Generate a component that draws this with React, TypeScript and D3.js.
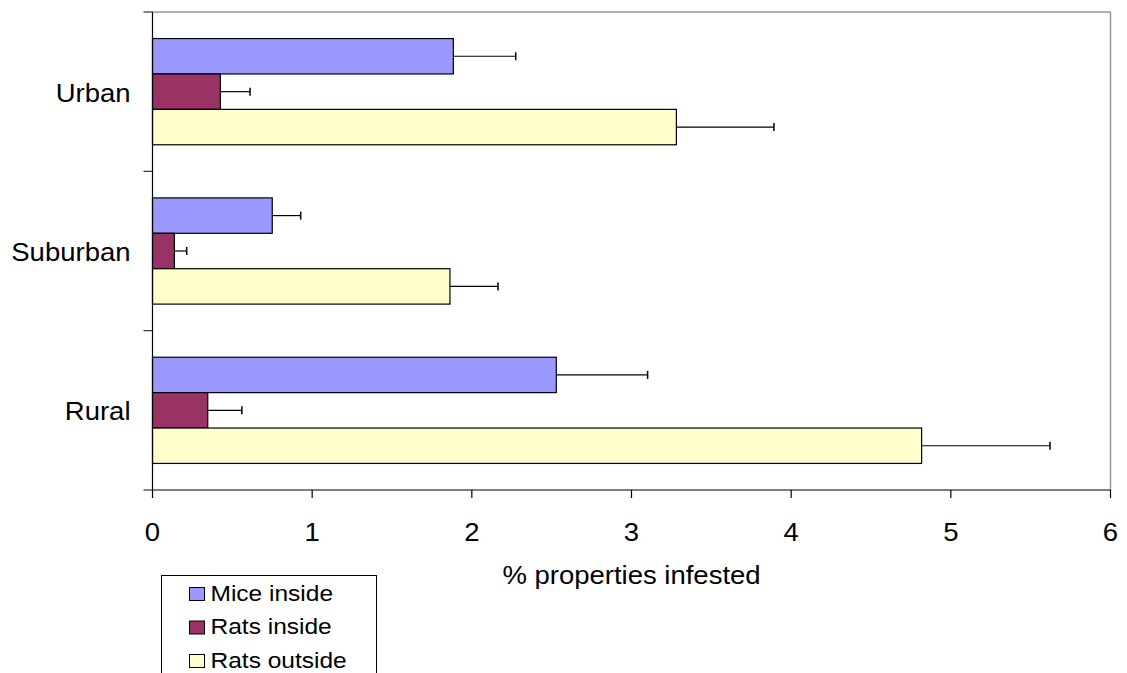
import React from "react";
import * as d3 from "d3";

const categories = ["Urban", "Suburban", "Rural"];
const seriesNames = ["Mice inside", "Rats inside", "Rats outside"];
const seriesColors = ["#9999FF", "#993366", "#FFFFCC"];
// values per category (Urban, Suburban, Rural)
const miceInside = [1.884, 0.75, 2.529];
const ratsInside = [0.425, 0.137, 0.346];
const ratsOutside = [3.281, 1.863, 4.817];
// upper error bar ends
const miceInsideErr = [2.275, 0.928, 3.101];
const ratsInsideErr = [0.611, 0.214, 0.56];
const ratsOutsideErr = [3.892, 2.164, 5.621];
const xTicks = [0, 1, 2, 3, 4, 5, 6];

function T({ x, y, size, anchor, sx, children }: any) {
  return (
    <text transform={`translate(${x},${y}) scale(${sx || 1.1},1)`} textAnchor={anchor || "start"} fontSize={size}>
      {children}
    </text>
  );
}

export default function App() {
  const W = 1127, H = 673;
  const left = 152.5, right = 1110.5, top = 12, bottom = 490;
  const x = d3.scaleLinear().domain([0, 6]).range([left, right]);
  const y = d3.scaleBand().domain(categories).range([top, bottom]);
  const band = y.bandwidth();
  const bw = band / 4.5;
  const values = [miceInside, ratsInside, ratsOutside];
  const errs = [miceInsideErr, ratsInsideErr, ratsOutsideErr];
  const font = "Liberation Sans, Arial, sans-serif";
  const yTickPos = [top, ...categories.map((c) => (y(c) as number) + band)];

  return (
    <svg width={W} height={H} style={{ position: "absolute", left: 0, top: 0 }} fontFamily={font}>
      <rect x={0} y={0} width={W} height={H} fill="#fff" />
      {/* frame */}
      <line x1={left} y1={top} x2={right} y2={top} stroke="#999" strokeWidth={1.5} />
      <line x1={right} y1={top} x2={right} y2={bottom} stroke="#999" strokeWidth={1.5} />
      {/* bars */}
      {categories.map((c, ci) =>
        values.map((vals, si) => {
          const by = (y(c) as number) + 0.75 * bw + si * bw;
          const cy = by + bw / 2;
          return (
            <g key={c + si}>
              <rect x={x(0)} y={by} width={x(vals[ci]) - x(0)} height={bw} fill={seriesColors[si]} stroke="#000" strokeWidth={1.2} />
              <line x1={x(vals[ci])} y1={cy} x2={x(errs[si][ci])} y2={cy} stroke="#000" strokeWidth={1.2} />
              <line x1={x(errs[si][ci])} y1={cy - 4} x2={x(errs[si][ci])} y2={cy + 4} stroke="#000" strokeWidth={1.5} />
            </g>
          );
        })
      )}
      {/* axes */}
      <line x1={left} y1={top} x2={left} y2={bottom} stroke="#000" strokeWidth={1.2} />
      <line x1={left} y1={bottom} x2={right} y2={bottom} stroke="#000" strokeWidth={1.2} />
      {yTickPos.map((p, i) => (
        <line key={i} x1={left - 9} y1={p} x2={left} y2={p} stroke="#333" strokeWidth={1.2} />
      ))}
      {xTicks.map((t) => (
        <g key={t}>
          <line x1={x(t)} y1={bottom} x2={x(t)} y2={bottom + 8} stroke="#000" strokeWidth={1.2} />
          <T x={x(t)} y={540.5} size={25} anchor="middle">{t}</T>
        </g>
      ))}
      {categories.map((c) => (
        <T key={c} x={130.5} y={(y(c) as number) + band / 2 + 10} size={25} anchor="end">{c}</T>
      ))}
      <T x={631.5} y={583.5} size={25} anchor="middle">% properties infested</T>
      {/* legend */}
      <rect x={161.5} y={575.5} width={215} height={120} fill="#fff" stroke="#000" strokeWidth={1} />
      {seriesNames.map((n, i) => (
        <g key={n}>
          <rect x={189.5} y={587.5 + i * 33.5} width={15} height={13} fill={seriesColors[i]} stroke="#000" strokeWidth={1} />
          <T x={210.5} y={600.5 + i * 33.5} size={22.5} sx={1.09}>{n}</T>
        </g>
      ))}
    </svg>
  );
}
